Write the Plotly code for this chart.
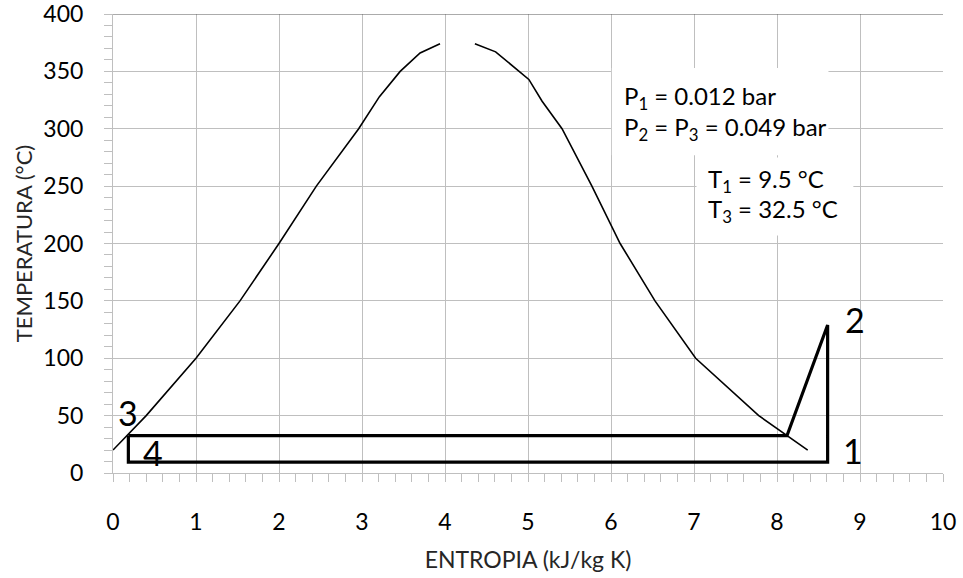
"""
T-s diagram of the cycle with the saturation dome
"""
import plotly.graph_objects as go

# saturation dome, liquid side (s in kJ/kg K, T in °C)
liq_s = [0.0, 0.40, 1.00, 1.53, 2.00, 2.45, 2.96, 3.21, 3.46, 3.70, 3.94]
liq_T = [20, 50, 100, 150, 200, 250, 300, 328, 350, 366, 374]

# saturation dome, vapour side
vap_s = [4.36, 4.61, 5.01, 5.17, 5.41, 5.77, 6.11, 6.53, 7.02, 7.78, 8.37]
vap_T = [374, 367, 343, 324, 300, 250, 200, 150, 100, 50, 20]

# cycle 3 -> vapour -> 2 -> 1 -> 4 -> 3
cycle_s = [0.185, 8.12, 8.61, 8.61, 0.185, 0.185]
cycle_T = [32.5, 32.5, 129, 9.4, 9.4, 32.5]

# state labels
state_names = ['1', '2', '3', '4']
state_s = [8.92, 8.94, 0.18, 0.48]
state_T = [20, 134, 53, 17.5]

info_lines = ['P<sub>1</sub> = 0.012 bar',
              'P<sub>2</sub> = P<sub>3</sub> = 0.049 bar',
              'T<sub>1</sub> = 9.5 °C',
              'T<sub>3</sub> = 32.5 °C']
info_s = [6.13, 6.13, 7.14, 7.14]
info_T = [327.5, 300.5, 255, 229]

FONT = 'Lato'
GRID = '#bfbfbf'

fig = go.Figure()

fig.add_trace(go.Scatter(x=liq_s, y=liq_T, mode='lines',
                         line=dict(color='black', width=1.6), hoverinfo='skip'))
fig.add_trace(go.Scatter(x=vap_s, y=vap_T, mode='lines',
                         line=dict(color='black', width=1.6), hoverinfo='skip'))
fig.add_trace(go.Scatter(x=cycle_s, y=cycle_T, mode='lines',
                         line=dict(color='black', width=3.2), hoverinfo='skip'))

# white boxes behind the text (hide the grid)
fig.add_shape(type='rect', x0=6.01, x1=8.62, y0=277, y1=353, layer='between',
              fillcolor='white', line_width=0)
fig.add_shape(type='rect', x0=7.03, x1=8.92, y0=207, y1=275, layer='between',
              fillcolor='white', line_width=0)
# darker top border
fig.add_shape(type='line', x0=0, x1=10, y0=400, y1=400,
              line=dict(color='#595959', width=1))

for name, s, t in zip(state_names, state_s, state_T):
    fig.add_annotation(x=s, y=t, text=name, showarrow=False,
                       font=dict(family=FONT, size=34, color='black'))

for txt, s, t in zip(info_lines, info_s, info_T):
    fig.add_annotation(x=s, y=t, text=txt, showarrow=False,
                       xanchor='left', yanchor='middle',
                       font=dict(family=FONT, size=24, color='black'))

fig.update_xaxes(
    range=[0, 10], dtick=1, showgrid=True, gridcolor=GRID, gridwidth=1,
    showline=True, linecolor=GRID, linewidth=1, zeroline=False, automargin=False,
    ticks='outside', ticklen=8, tickcolor=GRID, ticklabelstandoff=20,
    ticklabeloverflow='allow',
    minor=dict(dtick=0.2, ticks='outside', ticklen=8, tickcolor=GRID, showgrid=False),
    tickfont=dict(family=FONT, size=23, color='black'),
    title=dict(text='ENTROPIA (kJ/kg K)', standoff=18,
               font=dict(family=FONT, size=23, color='#262626')),
)
fig.update_yaxes(
    range=[0, 400], dtick=50, showgrid=True, gridcolor=GRID, gridwidth=1,
    showline=True, linecolor=GRID, linewidth=1, zeroline=False, automargin=False,
    ticks='outside', ticklen=8, tickcolor=GRID, ticklabelstandoff=16,
    ticklabeloverflow='allow',
    minor=dict(dtick=10, ticks='outside', ticklen=8, tickcolor=GRID, showgrid=False),
    tickfont=dict(family=FONT, size=23, color='black'),
    title=dict(text='TEMPERATURA (°C)', standoff=4,
               font=dict(family=FONT, size=22, color='#262626')),
)

fig.update_layout(
    width=963, height=578,
    margin=dict(l=113, r=20, t=14, b=105),
    plot_bgcolor='white', paper_bgcolor='white',
    showlegend=False,
)

# drop the default page margin so the figure fills the window
fig.write_html("out.html", config={'displayModeBar': False},
               post_script="document.body.style.margin='0';"
                           "document.body.style.overflow='hidden';")
